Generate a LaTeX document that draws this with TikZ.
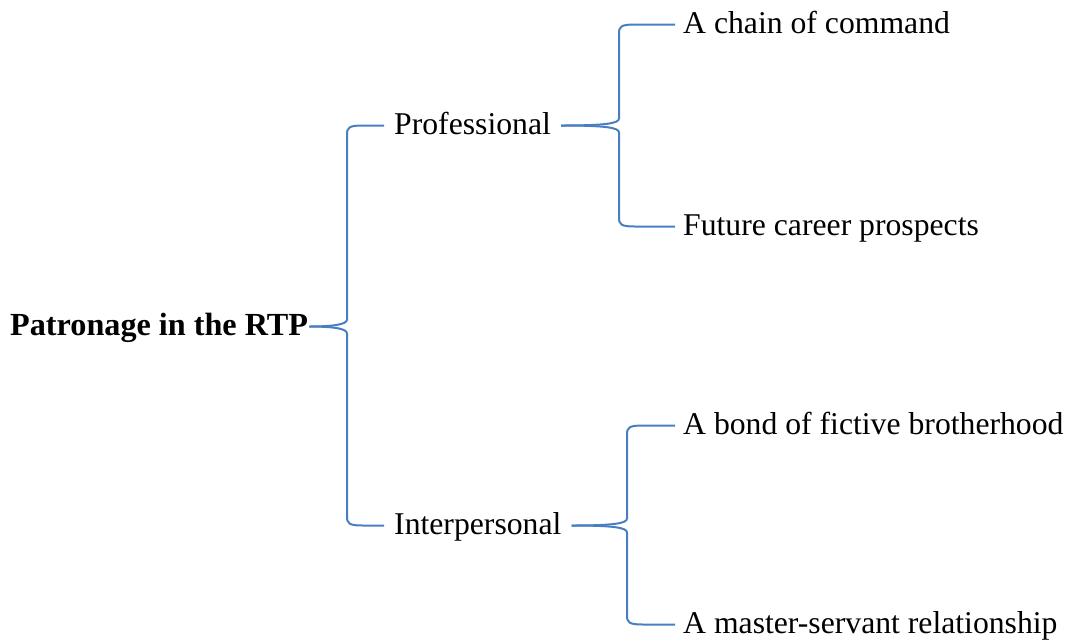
\documentclass[tikz,border=0pt]{standalone}
\usepackage{fontspec}
\setmainfont{Liberation Serif}
\usetikzlibrary{calc}
\definecolor{brblue}{HTML}{4A7EC2}
\newcommand\halfbrace[4]{%
  \draw[br] (#1.east) .. controls ($(#1.east -| #3)+(-14,0)$) and ($(#1.east -| #3)+(0,{(#4)*2})$) ..
    ($(#1.east -| #3)+(0,{(#4)*7})$) -- ($(#2.west -| #3)+(0,{-(#4)*9})$)
    .. controls ($(#2.west -| #3)+(0,{-(#4)*2})$) and ($(#2.west -| #3)+(2,0)$) ..
    ($(#2.west -| #3)+(16,0)$) -- (#2.west);}
\begin{document}
\begin{tikzpicture}[x=1pt,y=-1pt,
  lbl/.style={anchor=west,inner ysep=0pt,text height=17pt,text depth=0pt,
    font=\fontsize{31.7}{38}\selectfont},
  br/.style={draw=brblue,line width=2pt}]
\useasboundingbox (0,0) rectangle (1071,641);
\node[lbl,inner xsep=1pt,font=\fontsize{32.2}{38}\selectfont\bfseries] (root) at (9,326.5) {Patronage in the RTP};
\node[lbl,inner xsep=10pt] (prof) at (384,125.5) {Professional};
\node[lbl,inner xsep=10pt] (inter) at (384,525.5) {Interpersonal};
\node[lbl,inner xsep=8pt] (chain) at (675,24.5) {A chain of command};
\node[lbl,inner xsep=8pt] (future) at (675,226.5) {Future career prospects};
\node[lbl,inner xsep=8pt] (bond) at (675,425.5) {A bond of fictive brotherhood};
\node[lbl,inner xsep=8pt] (master) at (675,624.5) {A master-servant relationship};
\coordinate (b1) at (347,0);
\coordinate (b2) at (619,0);
\coordinate (b3) at (627,0);
\halfbrace{root}{prof}{b1}{-1}
\halfbrace{root}{inter}{b1}{1}
\halfbrace{prof}{chain}{b2}{-1}
\halfbrace{prof}{future}{b2}{1}
\halfbrace{inter}{bond}{b3}{-1}
\halfbrace{inter}{master}{b3}{1}
\end{tikzpicture}
\end{document}
